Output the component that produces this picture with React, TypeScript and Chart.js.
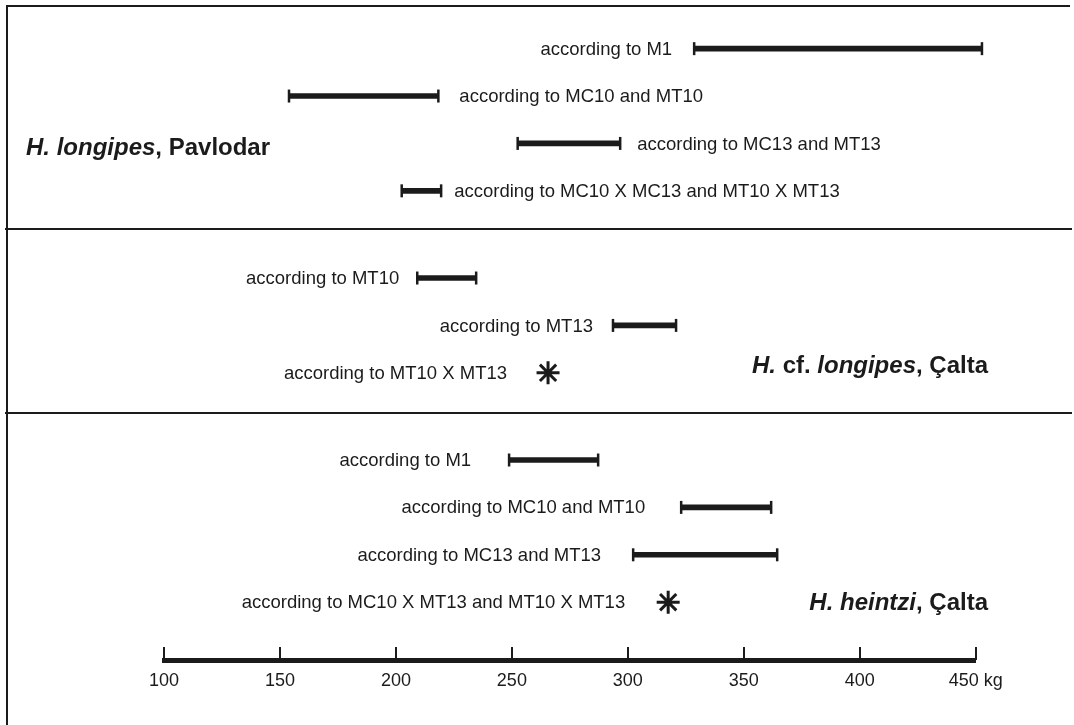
import React, { useEffect, useRef } from 'react';
import { Chart, registerables } from 'chart.js';

Chart.register(...registerables);

// ---------------- data ----------------
const X_MIN = 100;
const X_MAX = 450;
const X_STEP = 50;
const X_UNIT = 'kg';

const rowLabels = [
  'according to M1',
  'according to MC10 and MT10',
  'according to MC13 and MT13',
  'according to MC10 X MC13 and MT10 X MT13',
  'according to MT10',
  'according to MT13',
  'according to MT10 X MT13',
  'according to M1',
  'according to MC10 and MT10',
  'according to MC13 and MT13',
  'according to MC10 X MT13 and MT10 X MT13',
];
const rowPanel = [0, 0, 0, 0, 1, 1, 1, 2, 2, 2, 2];
const rangeLow: (number | null)[] = [328.6, 153.9, 252.5, 202.5, 209.2, 293.6, null, 248.8, 323.0, 302.3, null];
const rangeHigh: (number | null)[] = [452.7, 218.3, 296.7, 219.5, 234.6, 320.8, null, 287.2, 361.8, 364.4, null];
const singleValue: (number | null)[] = [null, null, null, null, null, null, 265.6, null, null, null, 317.4];

type Seg = { t: string; italic: boolean };
const panelTitles: Seg[][] = [
  [{ t: 'H. longipes', italic: true }, { t: ', Pavlodar', italic: false }],
  [{ t: 'H.', italic: true }, { t: ' cf. ', italic: false }, { t: 'longipes', italic: true }, { t: ', Çalta', italic: false }],
  [{ t: 'H. heintzi', italic: true }, { t: ', Çalta', italic: false }],
];

// ---------------- layout (positions / styles) ----------------
const FONT = '"Liberation Sans", Arial, Helvetica, sans-serif';
const INK = '#1b1b1b';
const LABEL_SIZE = 18.5;
const Y_MIN = -0.9;
const Y_MAX = 12.9;
const panelStart = [0, 4.84, 8.68];
const panelSeparators = [3.806, 7.688];
const labelSide = ['left', 'right', 'right', 'right', 'left', 'left', 'left', 'left', 'left', 'left', 'left'];
const labelGap = [22, 21, 17, 13, 18, 20, 41, 38, 36, 32, 43];
const titleAlign = ['left', 'right', 'right'];
const titleX = [26, 988, 988];
const titleRow = [2.25, 6.85, 11.845];

function rowY(): number[] {
  const counts = [0, 0, 0];
  return rowPanel.map((p) => {
    const v = panelStart[p] + counts[p];
    counts[p] += 1;
    return v;
  });
}

export default function App() {
  const ref = useRef<HTMLCanvasElement | null>(null);

  useEffect(() => {
    const canvas = ref.current;
    if (!canvas) return;
    const ys = rowY();

    const barData: any[] = [];
    const capData: any[] = [];
    const starData: any[] = [];
    rowLabels.forEach((_, i) => {
      const lo = rangeLow[i];
      const hi = rangeHigh[i];
      if (lo != null && hi != null) {
        barData.push({ x: [lo, hi], y: ys[i] });
        capData.push({ x: lo, y: ys[i] });
        capData.push({ x: hi, y: ys[i] });
      }
      const s = singleValue[i];
      if (s != null) starData.push({ x: s, y: ys[i] });
    });

    const framePlugin = {
      id: 'frame',
      beforeDatasetsDraw(chart: any) {
        const { ctx, scales } = chart;
        const y = scales.y;
        ctx.save();
        ctx.strokeStyle = INK;
        ctx.lineWidth = 2;
        ctx.beginPath();
        ctx.moveTo(7, 6);
        ctx.lineTo(7, 725);
        ctx.moveTo(6, 6);
        ctx.lineTo(1070, 6);
        panelSeparators.forEach((v) => {
          const py = Math.round(y.getPixelForValue(v));
          ctx.moveTo(5, py);
          ctx.lineTo(1072, py);
        });
        ctx.stroke();
        ctx.restore();
      },
      afterDraw(chart: any) {
        const { ctx, scales, chartArea } = chart;
        const x = scales.x;
        ctx.save();
        ctx.strokeStyle = INK;
        ctx.lineWidth = 2;
        ctx.beginPath();
        x.ticks.forEach((t: any) => {
          const px = Math.round(x.getPixelForValue(t.value));
          ctx.moveTo(px, chartArea.bottom);
          ctx.lineTo(px, chartArea.bottom - 13);
        });
        ctx.stroke();
        ctx.restore();
      },
    };

    const labelPlugin = {
      id: 'rowLabels',
      afterDatasetsDraw(chart: any) {
        const { ctx, scales } = chart;
        const x = scales.x;
        const y = scales.y;
        ctx.save();
        ctx.fillStyle = INK;
        ctx.textBaseline = 'middle';
        ctx.font = `${LABEL_SIZE}px ${FONT}`;
        rowLabels.forEach((label, i) => {
          const py = y.getPixelForValue(ys[i]) + 1;
          if (labelSide[i] === 'left') {
            const anchor = rangeLow[i] != null ? rangeLow[i] : singleValue[i];
            ctx.textAlign = 'right';
            ctx.fillText(label, x.getPixelForValue(anchor) - labelGap[i], py);
          } else {
            const anchor = rangeHigh[i] != null ? rangeHigh[i] : singleValue[i];
            ctx.textAlign = 'left';
            ctx.fillText(label, x.getPixelForValue(anchor) + labelGap[i], py);
          }
        });
        // panel titles
        ctx.textBaseline = 'alphabetic';
        ctx.textAlign = 'left';
        panelTitles.forEach((segs, p) => {
          const widths = segs.map((s) => {
            ctx.font = `${s.italic ? 'italic ' : ''}bold 24px ${FONT}`;
            return ctx.measureText(s.t).width;
          });
          const total = widths.reduce((a, b) => a + b, 0);
          let cx = titleAlign[p] === 'left' ? titleX[p] : titleX[p] - total;
          const py = y.getPixelForValue(titleRow[p]);
          segs.forEach((s, k) => {
            ctx.font = `${s.italic ? 'italic ' : ''}bold 24px ${FONT}`;
            ctx.fillText(s.t, cx, py);
            cx += widths[k];
          });
        });
        ctx.restore();
      },
    };

    const chart = new Chart(canvas, {
      type: 'bar',
      data: {
        datasets: [
          {
            type: 'bar',
            label: 'range',
            data: barData,
            backgroundColor: INK,
            borderWidth: 0,
            barThickness: 5,
            clip: false as any,
          } as any,
          {
            type: 'scatter',
            label: 'caps',
            data: capData,
            pointStyle: 'line',
            rotation: 90,
            radius: 6.5,
            borderWidth: 2.5,
            borderColor: INK,
            backgroundColor: INK,
            clip: false as any,
          } as any,
          {
            type: 'scatter',
            label: 'single',
            data: starData,
            pointStyle: 'star',
            radius: 11.5,
            borderWidth: 3,
            borderColor: INK,
            backgroundColor: INK,
            clip: false as any,
          } as any,
        ],
      },
      options: {
        indexAxis: 'y',
        responsive: false,
        animation: false,
        devicePixelRatio: 1,
        events: [],
        layout: { autoPadding: false, padding: { left: 164, right: 98.3, top: 6, bottom: 23.4 } },
        plugins: { legend: { display: false }, tooltip: { enabled: false } },
        scales: {
          x: {
            type: 'linear',
            min: X_MIN,
            max: X_MAX,
            offset: false,
            grid: { display: false, drawTicks: false },
            border: { display: true, width: 5, color: INK },
            ticks: {
              stepSize: X_STEP,
              autoSkip: false,
              maxRotation: 0,
              padding: 10,
              color: INK,
              font: { family: FONT, size: 18, lineHeight: 1.2 },
              callback: (v: any) => (Number(v) === X_MAX ? `${v} ${X_UNIT}` : `${v}`),
            },
          },
          y: {
            type: 'linear',
            min: Y_MIN,
            max: Y_MAX,
            offset: false,
            grace: 0,
            reverse: true,
            display: false,
          },
        },
      } as any,
      plugins: [framePlugin, labelPlugin],
    });

    return () => chart.destroy();
  }, []);

  return (
    <div style={{ position: 'fixed', left: 0, top: 0, width: 1074, height: 725, background: '#fff' }}>
      <canvas ref={ref} width={1074} height={725} style={{ display: 'block' }} />
    </div>
  );
}
